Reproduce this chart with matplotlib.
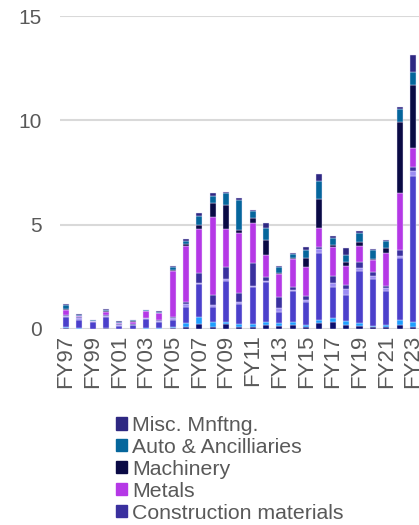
import numpy as np
import matplotlib
matplotlib.use("Agg")
import matplotlib.pyplot as plt
from matplotlib.patches import Patch

plt.rcParams['font.family'] = ['Liberation Sans', 'DejaVu Sans']

years = ['FY97', 'FY98', 'FY99', 'FY00', 'FY01', 'FY02', 'FY03', 'FY04', 'FY05',
         'FY06', 'FY07', 'FY08', 'FY09', 'FY10', 'FY11', 'FY12', 'FY13', 'FY14',
         'FY15', 'FY16', 'FY17', 'FY18', 'FY19', 'FY20', 'FY21', 'FY22', 'FY23']

# stacked from the bottom up; the first four are not in the legend
other_a = [0.03, 0.02, 0.01, 0.03, 0.01, 0.01, 0.02, 0.02, 0.06, 0.08, 0.24, 0.11, 0.24, 0.11,
           0.11, 0.19, 0.16, 0.19, 0.11, 0.27, 0.32, 0.19, 0.16, 0.08, 0.11, 0.19, 0.08]
other_b = [0.05, 0.02, 0.01, 0.02, 0.01, 0.01, 0.03, 0.02, 0.05, 0.19, 0.35, 0.21, 0.11, 0.13,
           0.11, 0.16, 0.11, 0.13, 0.08, 0.16, 0.19, 0.21, 0.11, 0.08, 0.08, 0.24, 0.24]
other_c = [0.50, 0.40, 0.30, 0.53, 0.13, 0.15, 0.42, 0.30, 0.32, 0.80, 1.55, 0.75, 1.96, 0.96,
           1.77, 1.88, 0.56, 1.52, 1.12, 3.20, 1.52, 1.23, 2.50, 2.25, 1.65, 2.96, 7.00]
other_d = [0.06, 0.07, 0.04, 0.06, 0.03, 0.03, 0.05, 0.06, 0.08, 0.11, 0.08, 0.08, 0.11, 0.08,
           0.06, 0.05, 0.16, 0.05, 0.08, 0.19, 0.19, 0.27, 0.16, 0.13, 0.11, 0.11, 0.24]
construction = [0.05, 0.05, 0.03, 0.05, 0.06, 0.05, 0.03, 0.05, 0.08, 0.10, 0.48, 0.48, 0.56, 0.43,
                1.12, 0.22, 0.56, 0.14, 0.21, 0.13, 0.32, 0.21, 0.29, 0.19, 0.11, 0.29, 0.20]
metals = [0.24, 0.08, 0.00, 0.11, 0.05, 0.10, 0.30, 0.32, 2.20, 2.72, 2.08, 3.75, 1.79, 2.91,
          1.93, 1.04, 1.09, 1.33, 1.36, 0.88, 1.37, 0.91, 0.75, 0.60, 1.57, 2.72, 0.90]
machinery = [0.03, 0.00, 0.00, 0.05, 0.00, 0.02, 0.00, 0.00, 0.03, 0.08, 0.21, 0.64, 1.17, 0.13,
             0.24, 0.72, 0.06, 0.03, 0.46, 1.41, 0.11, 0.21, 0.19, 0.03, 0.24, 3.43, 3.05]
auto = [0.18, 0.05, 0.03, 0.06, 0.05, 0.04, 0.04, 0.06, 0.13, 0.16, 0.43, 0.37, 0.56, 1.41,
        0.32, 0.56, 0.26, 0.21, 0.37, 0.83, 0.32, 0.32, 0.45, 0.42, 0.35, 0.60, 0.60]
misc = [0.06, 0.03, 0.02, 0.03, 0.03, 0.03, 0.02, 0.05, 0.06, 0.08, 0.13, 0.11, 0.08, 0.11,
        0.06, 0.27, 0.06, 0.05, 0.13, 0.35, 0.11, 0.32, 0.10, 0.05, 0.05, 0.08, 0.83]

series = [other_a, other_b, other_c, other_d, construction, metals, machinery, auto, misc]
colors = ['#0B0F6E', '#1E9EFF', '#4B40CB', '#9C8CF3', '#3A309E', '#B538E6', '#0A0A45',
          '#05669C', '#2E2882']
labels = [None, None, None, None, 'Construction materials', 'Metals', 'Machinery',
          'Auto & Ancilliaries', 'Misc. Mnftng.']

fig = plt.figure(figsize=(4.19, 5.25), dpi=100)
ax = fig.add_axes([60 / 419, 1 - 329 / 525, 359 / 419, 313 / 525])

x = np.arange(len(years))
bottom = np.zeros(len(years))
for vals, c in zip(series, colors):
    ax.bar(x, vals, width=0.45, bottom=bottom, color=c, edgecolor='#E6E2FA', linewidth=0.3,
           zorder=3)
    bottom += np.array(vals)

grey = '#595959'
ax.set_ylim(0, 15)
ax.set_xlim(-0.45, len(years) - 0.54)
ax.set_yticks([0, 5, 10, 15])
ax.yaxis.grid(True, color='#D9D9D9', linewidth=1.5, zorder=0)
ax.set_xticks(x[::2])
ax.set_xticklabels(years[::2], rotation=90, fontsize=16, color=grey)
ax.tick_params(axis='y', labelsize=15, labelcolor=grey, length=0, pad=13)
ax.tick_params(axis='x', length=0, pad=4)
for s in ax.spines.values():
    s.set_visible(False)

handles = [Patch(color=c, label=l) for c, l in zip(colors, labels) if l]
fig.legend(handles[::-1], [h.get_label() for h in handles[::-1]],
           loc='upper left', bbox_to_anchor=(116 / 419, 1 - 416 / 525),
           frameon=False, fontsize=15.3, labelcolor=grey, handlelength=0.5, handleheight=0.5,
           handletextpad=0.25, labelspacing=0.14, borderpad=0, borderaxespad=0)

fig.savefig('out.png', dpi=100)
